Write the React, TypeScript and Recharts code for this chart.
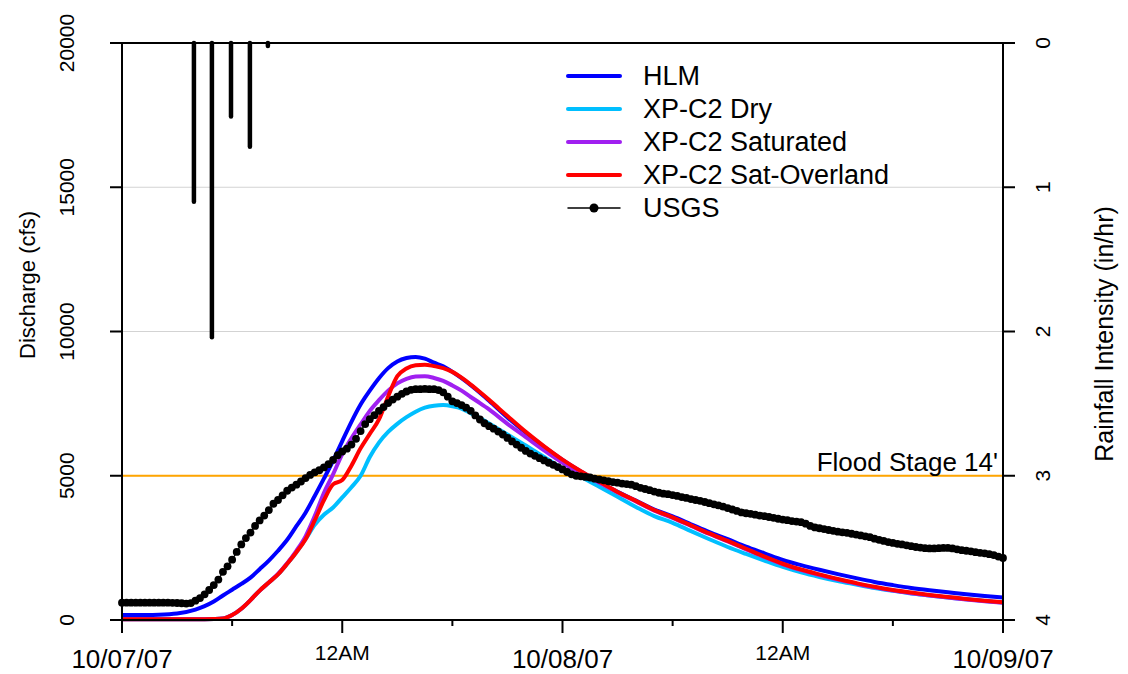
import React from 'react';
import { ComposedChart, Line, Bar, XAxis, YAxis, CartesianGrid, ReferenceLine } from 'recharts';

const FONT = '"Liberation Sans", Arial, Helvetica, sans-serif';

// rain gauge, in/hr (bars hang down from the top of the plot)
const rainHours = [3.92, 4.9, 5.94, 6.97, 7.95];
const rainIntensity = [1.1, 2.04, 0.51, 0.72, 0.02];

// model output, hours after 10/07/07 00:00
const modelHours = [
  0, 1, 2, 3, 4,
  4.5, 5, 5.5, 6, 6.5, 7, 7.5, 8, 8.5, 9, 9.5, 10, 10.5, 11, 11.5, 12,
  12.5, 13, 13.5, 14, 14.5, 15, 15.5, 16, 16.5, 17, 17.5, 18, 18.5, 19, 19.5, 20,
  21, 22, 23, 24, 25, 26, 27, 28, 29, 30, 31, 32, 33, 34,
  35, 36, 37, 38, 39, 40, 41, 42, 43, 44, 45, 46, 47, 48,
];
const hlmFlow = [
  170, 175, 185, 225, 360,
  480, 640, 850, 1050, 1250, 1470, 1760, 2060, 2400, 2780, 3250, 3720, 4300, 4900, 5520, 6200,
  6870, 7470, 7950, 8380, 8730, 8960, 9080, 9120, 9060, 8920, 8790, 8600, 8380, 8140, 7880, 7600,
  7020, 6490, 6000, 5550, 5150, 4790, 4440, 4140, 3830, 3590, 3320, 3050, 2800, 2540,
  2310, 2080, 1900, 1740, 1590, 1450, 1320, 1210, 1110, 1030, 960, 890, 830, 780,
];
const dryFlow = [
  30, 30, 30, 30, 30,
  30, 35, 50, 170, 390, 690, 1020, 1300, 1580, 1950, 2350, 2800, 3300, 3650, 3900, 4250,
  4600, 5000, 5650, 6150, 6520, 6800, 7030, 7220, 7360, 7430, 7450, 7410, 7330, 7170, 7000, 6810,
  6430, 6050, 5650, 5260, 4960, 4620, 4270, 3920, 3600, 3370, 3080, 2800, 2530, 2290,
  2060, 1840, 1650, 1490, 1350, 1230, 1110, 1010, 920, 850, 780, 720, 660, 610,
];
const satFlow = [
  30, 30, 30, 30, 30,
  30, 35, 50, 170, 390, 690, 1020, 1300, 1600, 1970, 2400, 2900, 3600, 4400, 5050, 5750,
  6300, 6780, 7250, 7620, 7950, 8200, 8360, 8440, 8450, 8390, 8290, 8130, 7950, 7730, 7520, 7300,
  6800, 6340, 5880, 5450, 5060, 4760, 4420, 4110, 3790, 3540, 3260, 2980, 2720, 2450,
  2180, 1930, 1730, 1560, 1400, 1260, 1130, 1020, 930, 850, 780, 710, 650, 600,
];
const satOverlandFlow = [
  30, 30, 30, 30, 30,
  30, 35, 50, 170, 390, 690, 1020, 1300, 1580, 1950, 2350, 2800, 3450, 4150, 4700, 4850,
  5350, 5950, 6450, 6950, 7750, 8450, 8720, 8830, 8850, 8800, 8730, 8600, 8400, 8160, 7900, 7630,
  7070, 6520, 6020, 5560, 5160, 4800, 4440, 4130, 3810, 3560, 3280, 3000, 2740, 2470,
  2200, 1950, 1750, 1580, 1420, 1280, 1150, 1040, 950, 870, 800, 730, 670, 615,
];

// USGS gauge, one reading every 15 minutes from 10/07/07 00:00
const usgsStepHours = 0.25;
const usgsFlow = [
  600, 600, 600, 600, 600, 600, 600, 600, 600, 600, 600, 595,
  590, 580, 570, 585, 670, 760, 890, 1040, 1210, 1400, 1670, 1860,
  2090, 2360, 2620, 2840, 3030, 3260, 3450, 3620, 3810, 4030, 4160, 4320,
  4480, 4590, 4690, 4800, 4920, 5030, 5120, 5190, 5290, 5400, 5550, 5710,
  5840, 5940, 6080, 6280, 6550, 6790, 6960, 7100, 7250, 7380, 7520, 7640,
  7740, 7840, 7920, 7980, 8000, 8000, 8010, 8000, 8000, 7970, 7890, 7740,
  7580, 7520, 7450, 7360, 7250, 7090, 6950, 6820, 6720, 6630, 6530, 6430,
  6310, 6190, 6080, 5970, 5860, 5770, 5690, 5610, 5530, 5450, 5380, 5300,
  5220, 5130, 5050, 5000, 4980, 4960, 4940, 4900, 4870, 4840, 4810, 4780,
  4760, 4730, 4710, 4690, 4640, 4580, 4540, 4500, 4450, 4410, 4380, 4360,
  4330, 4300, 4260, 4230, 4190, 4160, 4130, 4090, 4050, 4010, 3970, 3930,
  3880, 3830, 3780, 3730, 3700, 3680, 3650, 3620, 3600, 3570, 3540, 3510,
  3480, 3460, 3430, 3410, 3390, 3340, 3260, 3210, 3180, 3150, 3120, 3090,
  3060, 3040, 3020, 2990, 2960, 2930, 2900, 2870, 2820, 2780, 2740, 2700,
  2670, 2640, 2620, 2590, 2560, 2530, 2510, 2490, 2480, 2480, 2490, 2500,
  2500, 2480, 2450, 2420, 2400, 2380, 2350, 2330, 2310, 2280, 2250, 2200,
  2150,
];

const dischargeTicks = [0, 5000, 10000, 15000, 20000];
const rainTicks = [0, 1, 2, 3, 4];
const timeTicks = [0, 6, 12, 18, 24, 30, 36, 42, 48];
const timeLabels: Record<number, string> = {
  0: '10/07/07', 12: '12AM', 24: '10/08/07', 36: '12AM', 48: '10/09/07',
};

const legendNames = ['HLM', 'XP-C2 Dry', 'XP-C2 Saturated', 'XP-C2 Sat-Overland', 'USGS'];
const legendColors = ['#0000FF', '#00BFFF', '#A020F0', '#FF0000', '#000000'];

const rainData = rainHours.map((t, i) => ({ t, rain: rainIntensity[i] }));
const toSeries = (vals: number[]) => modelHours.map((t, i) => ({ t, q: vals[i] }));
const usgsData = usgsFlow.map((q, i) => ({ t: i * usgsStepHours, q }));

const W = 1112;
const H = 666;
const PLOT_BOTTOM = 612;

const LeftTick = (props: any) => {
  const { y, payload } = props;
  return (
    <text x={58} y={y} transform={`rotate(-90 58 ${y})`} textAnchor="middle"
      dominantBaseline="central" fontSize={21} fontFamily={FONT} fill="#000">
      {payload.value}
    </text>
  );
};

const RightTick = (props: any) => {
  const { y, payload } = props;
  return (
    <text x={1034} y={y} transform={`rotate(-90 1034 ${y})`} textAnchor="middle"
      dominantBaseline="central" fontSize={21} fontFamily={FONT} fill="#000">
      {payload.value}
    </text>
  );
};

const TimeTick = (props: any) => {
  const { x, payload } = props;
  const v = payload.value;
  const major = v % 12 === 0;
  const label = timeLabels[v];
  const small = label === '12AM';
  return (
    <g>
      <line x1={x} x2={x} y1={PLOT_BOTTOM} y2={PLOT_BOTTOM + (major ? 13 : 6)} stroke="#000" strokeWidth={2} />
      {label && (
        <text x={x} y={small ? 644 : 651} textAnchor="middle" dominantBaseline="central"
          fontSize={small ? 21 : 26} fontFamily={FONT} fill="#000">
          {label}
        </text>
      )}
    </g>
  );
};

// rain bars drawn as thick round-ended strokes hanging from the top
const RainBar = (props: any) => {
  const { x, y, width, height } = props;
  if (x == null || y == null) return null;
  const cx = x + width / 2;
  const y1 = Math.min(y, y + height);
  const y2 = Math.max(y, y + height);
  return <line x1={cx} x2={cx} y1={y1} y2={y2} stroke="#000" strokeWidth={4.5} strokeLinecap="round" />;
};

export default function App() {
  return (
    <div style={{ position: 'relative', width: W, height: H, fontFamily: FONT }}>
      <ComposedChart width={W} height={H} data={rainData} margin={{ top: 35, right: 0, bottom: 0, left: 0 }}>
        <CartesianGrid yAxisId="q" vertical={false} stroke="#d3d3d3" />
        <XAxis dataKey="t" type="number" domain={[0, 48]} ticks={timeTicks} height={H - PLOT_BOTTOM}
          axisLine={{ stroke: '#000', strokeWidth: 2 }} tickLine={false} tick={<TimeTick />} interval={0} />
        <YAxis yAxisId="q" domain={[0, 20000]} ticks={dischargeTicks} width={114} tickSize={12}
          axisLine={{ stroke: '#000', strokeWidth: 2 }} tickLine={{ stroke: '#000', strokeWidth: 2 }}
          tick={<LeftTick />} interval={0} />
        <YAxis yAxisId="rain" orientation="right" domain={[0, 4]} reversed ticks={rainTicks} width={117}
          tickSize={12} axisLine={{ stroke: '#000', strokeWidth: 2 }} tickLine={{ stroke: '#000', strokeWidth: 2 }}
          tick={<RightTick />} interval={0} />
        <ReferenceLine yAxisId="q" y={20000} stroke="#000" strokeWidth={2} />
        <ReferenceLine yAxisId="q" y={5000} stroke="#FFA500" strokeWidth={2}
          label={{ value: "Flood Stage 14'", position: 'insideBottomRight', offset: 5, fill: '#000', fontSize: 26, fontFamily: FONT }} />
        <Bar yAxisId="rain" dataKey="rain" fill="#000" barSize={4} shape={<RainBar />} isAnimationActive={false} />
        <Line data={usgsData} yAxisId="q" dataKey="q" type="linear" stroke="#000" strokeWidth={1.2}
          dot={{ r: 3.9, fill: '#000', stroke: 'none' }} isAnimationActive={false} />
        <Line data={toSeries(hlmFlow)} yAxisId="q" dataKey="q" type="monotone" stroke={legendColors[0]}
          strokeWidth={4} dot={false} isAnimationActive={false} />
        <Line data={toSeries(dryFlow)} yAxisId="q" dataKey="q" type="monotone" stroke={legendColors[1]}
          strokeWidth={4} dot={false} isAnimationActive={false} />
        <Line data={toSeries(satFlow)} yAxisId="q" dataKey="q" type="monotone" stroke={legendColors[2]}
          strokeWidth={4} dot={false} isAnimationActive={false} />
        <Line data={toSeries(satOverlandFlow)} yAxisId="q" dataKey="q" type="monotone" stroke={legendColors[3]}
          strokeWidth={4} dot={false} isAnimationActive={false} />
      </ComposedChart>
      <svg width={W} height={H} style={{ position: 'absolute', left: 0, top: 0, pointerEvents: 'none' }}
        fontFamily={FONT}>
        <text transform="translate(19 277) rotate(-90)" textAnchor="middle" dominantBaseline="central"
          fontSize={22} fill="#000">Discharge (cfs)</text>
        <text transform="translate(1096 326) rotate(-90)" textAnchor="middle" dominantBaseline="central"
          fontSize={25} fill="#000">Rainfall Intensity (in/hr)</text>
        {legendNames.map((name, i) => {
          const y = 68 + i * 33;
          const isGauge = i === legendNames.length - 1;
          return (
            <g key={name}>
              <line x1={560} x2={612} y1={y} y2={y} stroke={legendColors[i]}
                strokeWidth={isGauge ? 1.5 : 4} strokeLinecap="round" />
              {isGauge && <circle cx={586} cy={y} r={4.5} fill="#000" />}
              <text x={635} y={y} dominantBaseline="central" fontSize={27} fill="#000">{name}</text>
            </g>
          );
        })}
      </svg>
    </div>
  );
}
